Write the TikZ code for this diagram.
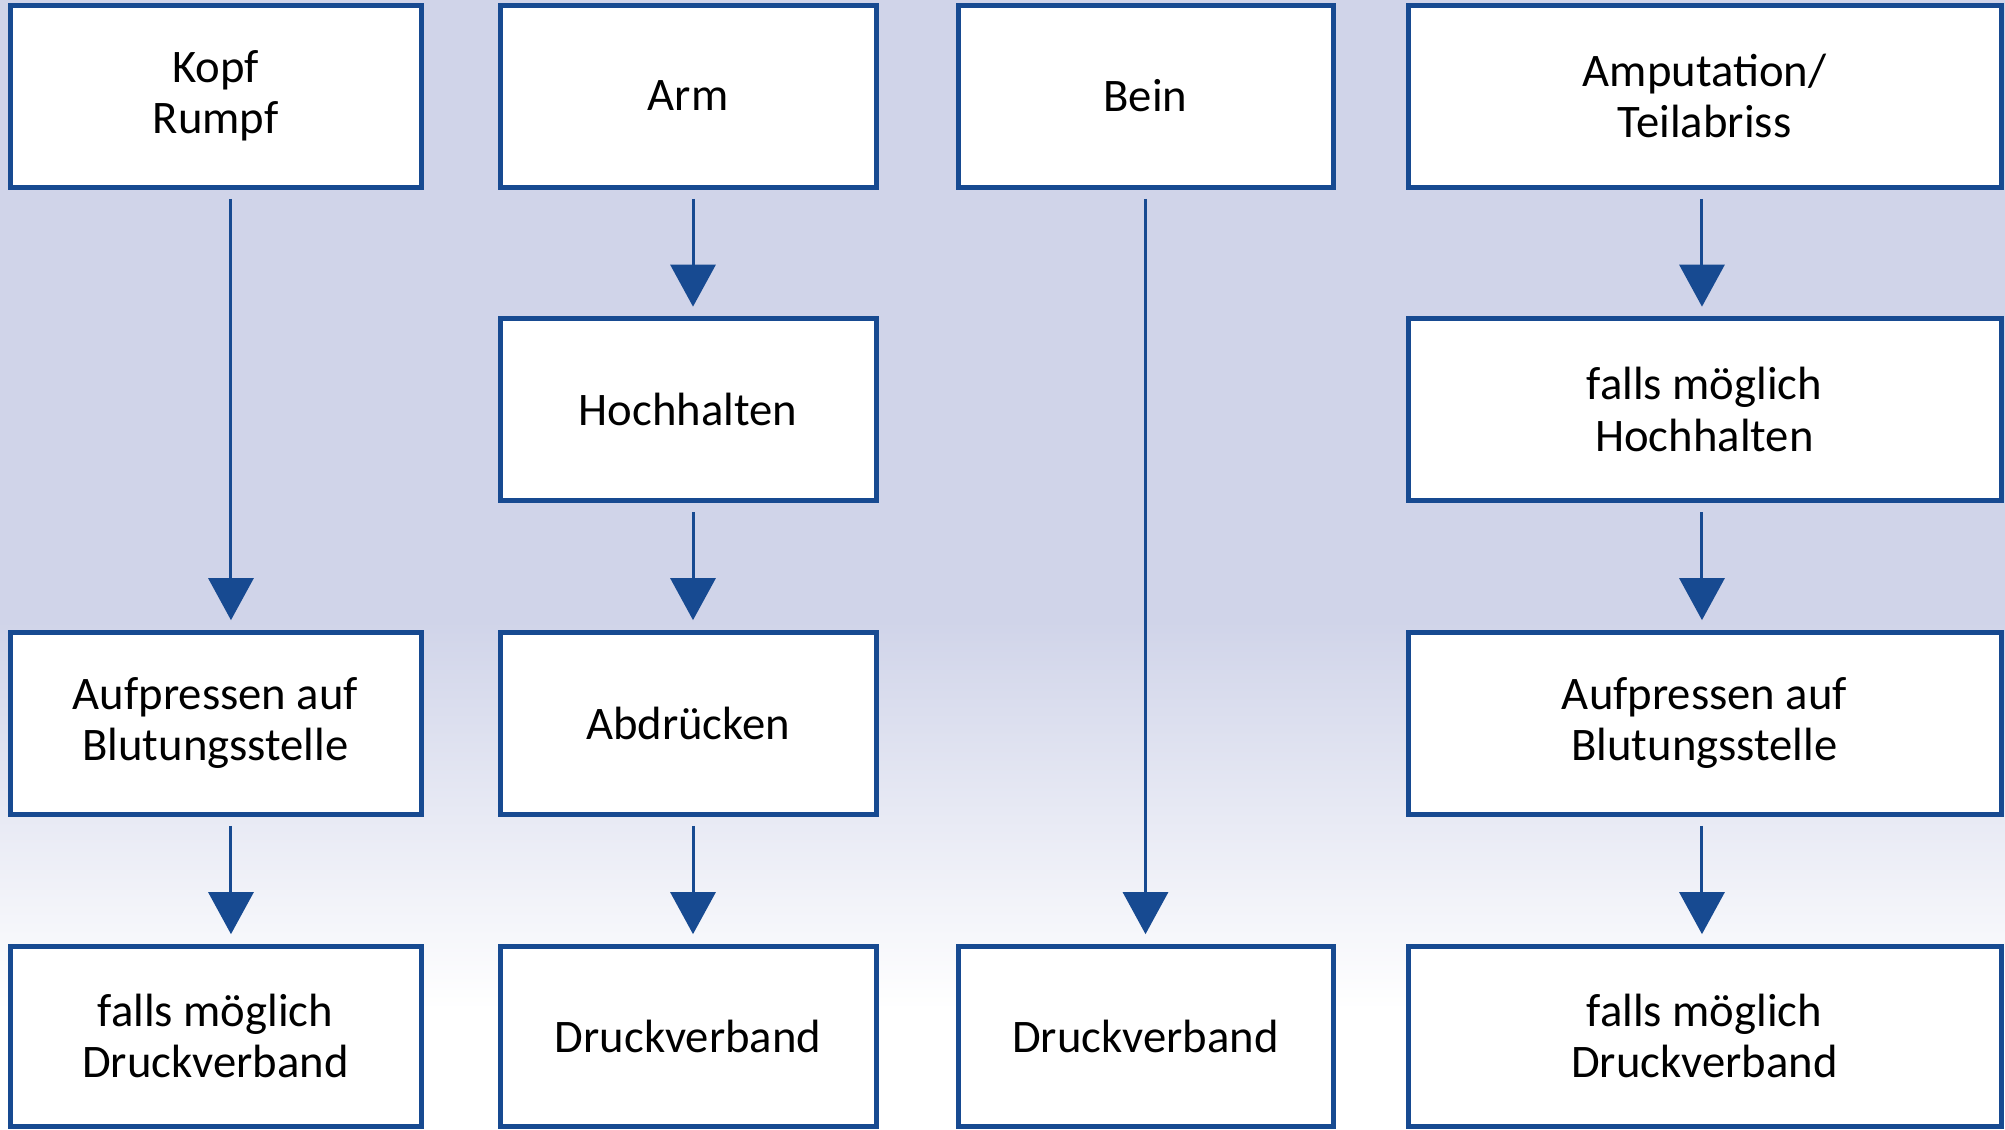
\documentclass[tikz,border=0pt]{standalone}
\usepackage{fontspec}
\setmainfont{Carlito}
\usepackage{tikz}
\usetikzlibrary{arrows.meta,calc}
\definecolor{boxblue}{RGB}{23,74,145}
\definecolor{bglav}{RGB}{208,212,233}
\tikzset{
  box/.style={draw=boxblue, line width=3.75pt, fill=white, inner sep=0pt,
    minimum height=136.5pt, align=center,
    font=\fontsize{35pt}{38.5pt}\selectfont},
  arr/.style={draw=boxblue, line width=2.25pt,
    -{Triangle[width=33.75pt,length=31.5pt]}, shorten <=7pt, shorten >=7pt}
}
\begin{document}
\begin{tikzpicture}[x=0.75pt,y=0.75pt,yscale=-1,xscale=1]
\useasboundingbox (0,0) rectangle (2005,1129);

%Background
\fill [bglav] (0,0) rectangle (2005,620);
\shade [top color=bglav, bottom color=white] (0,620) rectangle (2005,1010);

%Row 1
\node [box, minimum width=308.25pt] (kopf) at (215.5,96) {Kopf\\Rumpf};
\node [box, minimum width=282pt] (arm) at (688,96) {Arm};
\node [box, minimum width=281.25pt] (bein) at (1145.5,96) {Bein};
\node [box, minimum width=444.75pt] (amput) at (1704.5,96) {Amputation/\\Teilabriss};

%Row 2
\node [box, minimum width=282pt] (hochArm) at (688,409.5) {Hochhalten};
\node [box, minimum width=444.75pt] (hochAmp) at (1704.5,409.5) {falls möglich\\Hochhalten};

%Row 3
\node [box, minimum width=308.25pt] (aufprKopf) at (215.5,723) {Aufpressen auf\\Blutungsstelle};
\node [box, minimum width=282pt] (abdr) at (688,723) {Abdrücken};
\node [box, minimum width=444.75pt] (aufprAmp) at (1704.5,723) {Aufpressen auf\\Blutungsstelle};

%Row 4
\node [box, minimum width=308.25pt, minimum height=135pt] (druckKopf) at (215.5,1036) {falls möglich\\Druckverband};
\node [box, minimum width=282pt, minimum height=135pt] (druckArm) at (688,1036) {Druckverband};
\node [box, minimum width=281.25pt, minimum height=135pt] (druckBein) at (1145.5,1036) {Druckverband};
\node [box, minimum width=444.75pt, minimum height=135pt] (druckAmp) at (1704.5,1036) {falls möglich\\Druckverband};

%Arrows
\draw [arr] ([xshift=11.6pt]kopf.south) -- ([xshift=11.6pt]aufprKopf.north);
\draw [arr] ([xshift=11.6pt]aufprKopf.south) -- ([xshift=11.6pt]druckKopf.north);
\draw [arr] ([xshift=3.75pt]arm.south) -- ([xshift=3.75pt]hochArm.north);
\draw [arr] ([xshift=3.75pt]hochArm.south) -- ([xshift=3.75pt]abdr.north);
\draw [arr] ([xshift=3.75pt]abdr.south) -- ([xshift=3.75pt]druckArm.north);
\draw [arr] (bein) -- (druckBein);
\draw [arr] ([xshift=-1.9pt]amput.south) -- ([xshift=-1.9pt]hochAmp.north);
\draw [arr] ([xshift=-1.9pt]hochAmp.south) -- ([xshift=-1.9pt]aufprAmp.north);
\draw [arr] ([xshift=-1.9pt]aufprAmp.south) -- ([xshift=-1.9pt]druckAmp.north);
\end{tikzpicture}
\end{document}
